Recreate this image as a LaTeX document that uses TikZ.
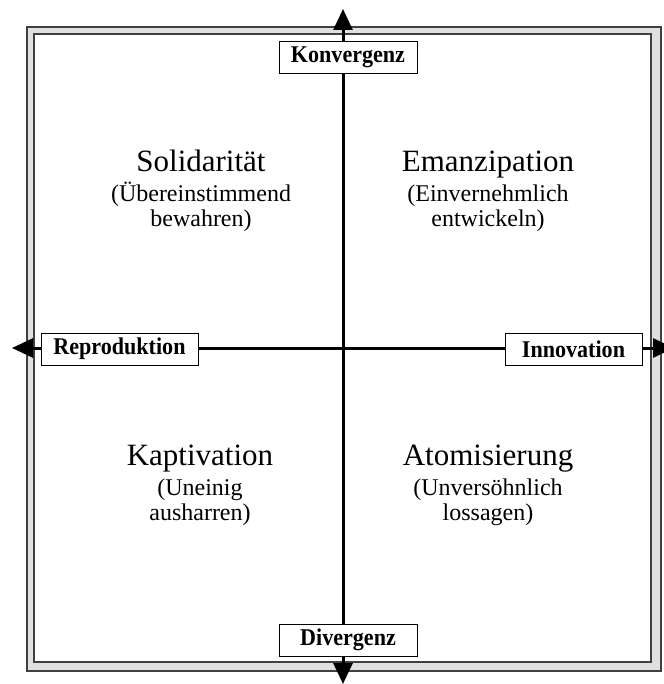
\documentclass[tikz,border=0pt]{standalone}
\usepackage{fontspec}
\setmainfont{Liberation Serif}
\newfontfamily\lblfont[FakeStretch=0.92]{Liberation Serif}
\usetikzlibrary{arrows.meta}
\definecolor{framegray}{HTML}{E0E0E0}
\definecolor{framedark}{HTML}{404040}
\tikzset{
  axisline/.style={line width=3pt, black, -{Triangle[length=21pt,width=19pt]}},
  labelbox/.style={draw=black, line width=0.9pt, fill=white, minimum height=32pt, inner sep=0pt,
    font=\lblfont\fontsize{24}{26}\selectfont\bfseries},
  qtitle/.style={anchor=base, inner sep=0pt, font=\fontsize{31}{34}\selectfont},
  qsub/.style={anchor=base, inner sep=0pt, font=\fontsize{24}{26}\selectfont},
}
\begin{document}
\begin{tikzpicture}[x=1pt,y=-1pt]
\useasboundingbox (0,0) rectangle (663,684);
% frame
\draw[framedark, line width=2pt, fill=framegray] (26.5,27) rectangle (660.5,671);
\draw[framedark, line width=2pt, fill=white] (34,34) rectangle (651,662);
% axis tips
\coordinate (ntip) at (343,9);
\coordinate (stip) at (343,684);
\coordinate (wtip) at (12,348);
\coordinate (etip) at (674,348);
\coordinate (origin) at (343,348);
\draw[axisline] (origin) -- (ntip);
\draw[axisline] (origin) -- (stip);
\draw[axisline] (origin) -- (wtip);
\draw[axisline] (origin) -- (etip);
% axis labels
\node[labelbox, minimum width=138pt] (konv) at (348,57) {Konvergenz};
\node[labelbox, minimum width=138pt] (div) at (348,640) {Divergenz};
\node[labelbox, minimum width=157pt] (repro) at (119.5,349) {Reproduktion};
\node[labelbox, minimum width=137pt] (innov) at (573.5,349) {Innovation};
% quadrant texts
\node[qtitle] (sol) at (201,172) {Solidarität};
\node[qsub] (sol1) at (201,202) {(Übereinstimmend};
\node[qsub] (sol2) at (201,227) {bewahren)};
\node[qtitle] (ema) at (488,172) {Emanzipation};
\node[qsub] (ema1) at (488,202) {(Einvernehmlich};
\node[qsub] (ema2) at (488,227) {entwickeln)};
\node[qtitle] (kap) at (200,465) {Kaptivation};
\node[qsub] (kap1) at (200,495) {(Uneinig};
\node[qsub] (kap2) at (200,520) {ausharren)};
\node[qtitle] (ato) at (488,465) {Atomisierung};
\node[qsub] (ato1) at (488,495) {(Unversöhnlich};
\node[qsub] (ato2) at (488,520) {lossagen)};
\end{tikzpicture}
\end{document}
